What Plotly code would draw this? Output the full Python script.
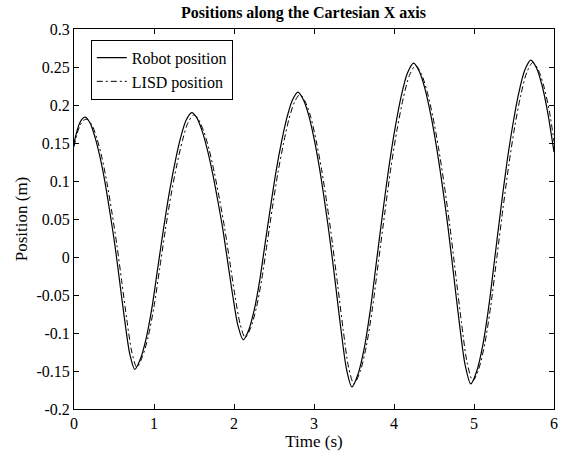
import plotly.graph_objects as go

# ---- data (time in s, position in m) ----
robot_t = [0.000, 0.035, 0.070, 0.105, 0.140,
           0.202, 0.264, 0.326, 0.388, 0.450, 0.512, 0.574, 0.636, 0.698, 0.760,
           0.831, 0.902, 0.974, 1.045, 1.116, 1.187, 1.258, 1.330, 1.401, 1.472,
           1.536, 1.601, 1.665, 1.729, 1.794, 1.858, 1.922, 1.986, 2.051, 2.115,
           2.184, 2.252, 2.321, 2.389, 2.458, 2.526, 2.595, 2.663, 2.732, 2.800,
           2.867, 2.935, 3.002, 3.070, 3.137, 3.204, 3.272, 3.339, 3.407, 3.474,
           3.551, 3.628, 3.705, 3.782, 3.860, 3.937, 4.014, 4.091, 4.168, 4.245,
           4.317, 4.388, 4.460, 4.531, 4.603, 4.674, 4.746, 4.817, 4.889, 4.960,
           5.035, 5.110, 5.185, 5.260, 5.335, 5.410, 5.485, 5.560, 5.635, 5.710,
           5.780, 5.850, 5.920, 6.000]
robot_y = [0.150, 0.165, 0.176, 0.182, 0.184,
           0.176, 0.157, 0.131, 0.098, 0.058, 0.015, -0.035, -0.085, -0.128, -0.148,
           -0.134, -0.107, -0.067, -0.016, 0.035, 0.082, 0.122, 0.156, 0.180, 0.190,
           0.183, 0.166, 0.142, 0.112, 0.076, 0.038, -0.007, -0.052, -0.091, -0.109,
           -0.096, -0.070, -0.031, 0.018, 0.067, 0.113, 0.152, 0.184, 0.207, 0.217,
           0.207, 0.186, 0.155, 0.116, 0.070, 0.019, -0.039, -0.097, -0.148, -0.171,
           -0.154, -0.120, -0.069, -0.005, 0.059, 0.119, 0.170, 0.212, 0.242, 0.255,
           0.244, 0.221, 0.187, 0.145, 0.095, 0.040, -0.024, -0.087, -0.142, -0.167,
           -0.150, -0.116, -0.065, -0.001, 0.063, 0.123, 0.174, 0.216, 0.246, 0.259,
           0.249, 0.226, 0.191, 0.138]

lisd_t = [0.000, 0.040, 0.080, 0.120, 0.165,
          0.227, 0.289, 0.351, 0.413, 0.475, 0.537, 0.599, 0.661, 0.723, 0.785,
          0.856, 0.927, 0.999, 1.070, 1.141, 1.212, 1.283, 1.355, 1.426, 1.497,
          1.561, 1.626, 1.690, 1.754, 1.819, 1.883, 1.947, 2.011, 2.076, 2.140,
          2.209, 2.277, 2.346, 2.414, 2.483, 2.551, 2.620, 2.688, 2.757, 2.825,
          2.892, 2.960, 3.027, 3.095, 3.162, 3.229, 3.297, 3.364, 3.432, 3.499,
          3.576, 3.653, 3.730, 3.807, 3.885, 3.962, 4.039, 4.116, 4.193, 4.270,
          4.342, 4.413, 4.485, 4.556, 4.628, 4.699, 4.771, 4.842, 4.914, 4.985,
          5.060, 5.135, 5.210, 5.285, 5.360, 5.435, 5.510, 5.585, 5.660, 5.735,
          5.805, 5.875, 5.945, 6.000]
lisd_y = [0.145, 0.163, 0.174, 0.180, 0.181,
          0.173, 0.155, 0.130, 0.097, 0.058, 0.015, -0.034, -0.083, -0.125, -0.145,
          -0.131, -0.105, -0.066, -0.016, 0.035, 0.081, 0.120, 0.153, 0.177, 0.187,
          0.180, 0.164, 0.141, 0.111, 0.076, 0.038, -0.006, -0.050, -0.088, -0.106,
          -0.093, -0.068, -0.030, 0.018, 0.067, 0.112, 0.150, 0.182, 0.204, 0.214,
          0.204, 0.184, 0.153, 0.115, 0.070, 0.019, -0.038, -0.095, -0.145, -0.167,
          -0.151, -0.118, -0.068, -0.005, 0.058, 0.118, 0.168, 0.209, 0.239, 0.252,
          0.241, 0.218, 0.185, 0.144, 0.095, 0.040, -0.023, -0.085, -0.139, -0.163,
          -0.147, -0.114, -0.064, -0.001, 0.062, 0.121, 0.172, 0.213, 0.243, 0.256,
          0.246, 0.224, 0.190, 0.152]

x_ticks = [0, 1, 2, 3, 4, 5, 6]
y_ticks = [-0.2, -0.15, -0.1, -0.05, 0, 0.05, 0.1, 0.15, 0.2, 0.25, 0.3]
y_tick_labels = ["-0.2", "-0.15", "-0.1", "-0.05", "0", "0.05", "0.1", "0.15", "0.2", "0.25", "0.3"]

FONT = "Liberation Serif"

fig = go.Figure()
fig.add_trace(go.Scatter(x=robot_t, y=robot_y, mode="lines", name="Robot position",
                         line=dict(color="black", width=1.2, shape="spline", smoothing=0.8)))
fig.add_trace(go.Scatter(x=lisd_t, y=lisd_y, mode="lines", name="LISD position",
                         line=dict(color="black", width=1.0, dash="6px,3px,2px,3px", shape="spline", smoothing=0.8)))

axis_common = dict(showline=True, linecolor="black", linewidth=1, mirror="ticks", ticks="inside",
                   ticklen=5, tickcolor="black", showgrid=False, zeroline=False,
                   tickfont=dict(family=FONT, size=16, color="black"))

fig.update_layout(
    width=562, height=461,
    margin=dict(l=74, r=4, t=29, b=52),
    paper_bgcolor="white", plot_bgcolor="white",
    title=dict(text="<b>Positions along the Cartesian X axis</b>", x=0.54, xanchor="center",
               y=0.973, yanchor="middle", font=dict(family=FONT, size=16, color="black")),
    xaxis=dict(range=[0, 6], tickvals=x_ticks, ticktext=[str(v) for v in x_ticks],
               title=dict(text="Time (s)", font=dict(family=FONT, size=17, color="black"), standoff=2),
               **axis_common),
    yaxis=dict(range=[-0.2, 0.3], tickvals=y_ticks, ticktext=y_tick_labels,
               title=dict(text="Position (m)", font=dict(family=FONT, size=17, color="black"), standoff=4),
               **axis_common),
    legend=dict(x=0.035, y=0.972, xanchor="left", yanchor="top", bgcolor="white",
                bordercolor="black", borderwidth=1, font=dict(family=FONT, size=16, color="black"),
                tracegroupgap=0, itemwidth=30),
    showlegend=True,
)

fig.write_html("out.html")
